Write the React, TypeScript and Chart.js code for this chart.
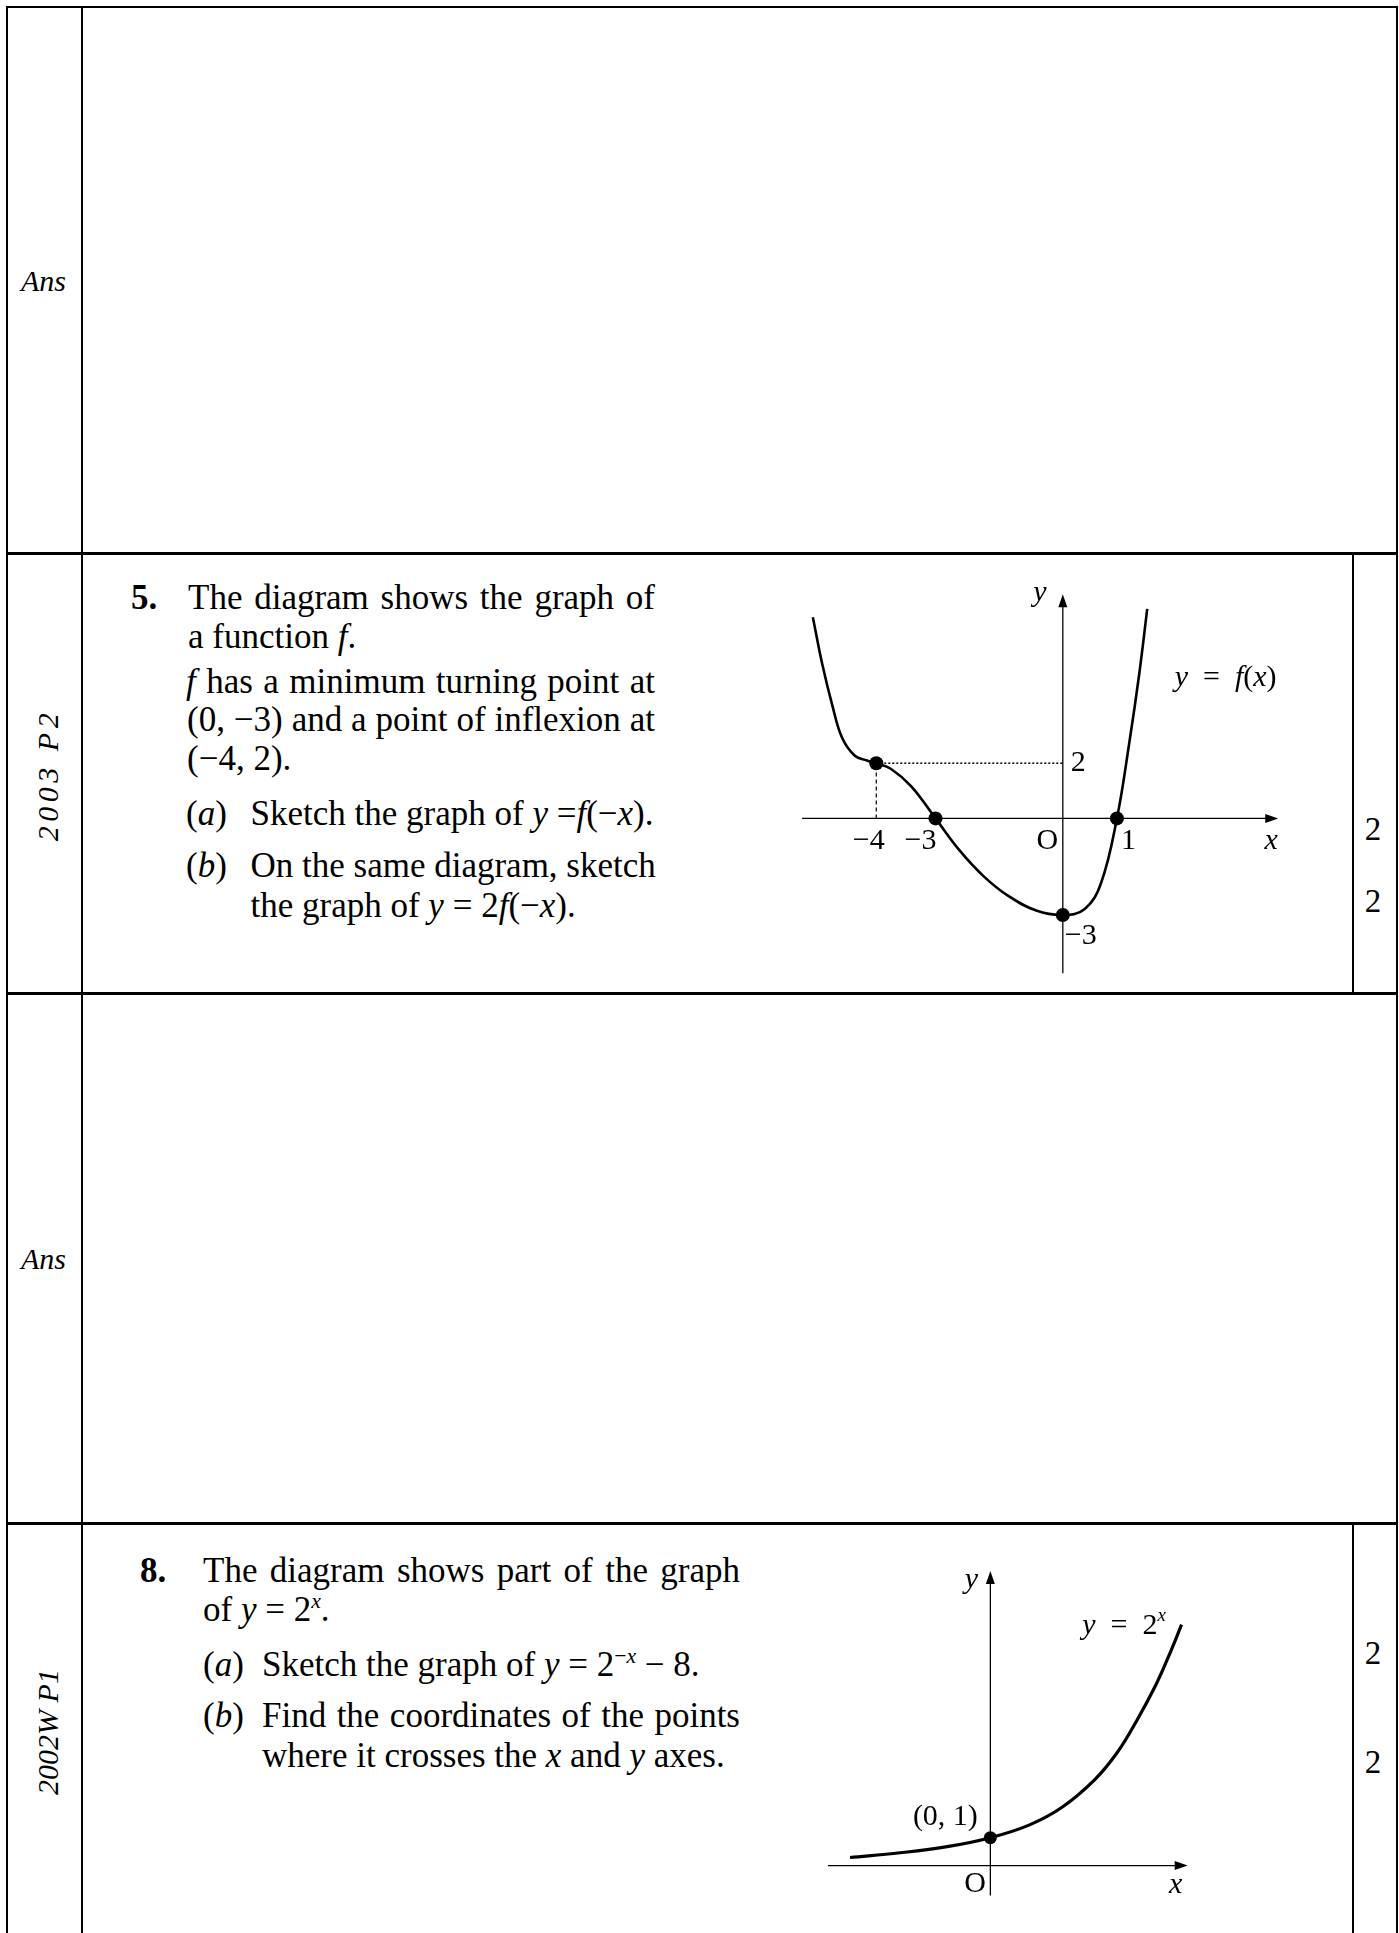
import React, { useEffect, useRef } from 'react';
import { Chart, registerables } from 'chart.js';

Chart.register(...registerables);

const SERIF = '"Liberation Serif", "Times New Roman", Times, serif';

// ===== Question 5 : y = f(x)  (values read in the sketch's own units)
const fCurveX = [-5.36, -5.16, -4.94, -4.73, -4.46, -4.2, -4, -3.69, -3.25, -2.73, -2.21, -1.69, -1.17, -0.57, 0, 0.47, 0.82, 1.16, 1.42, 1.64, 1.81];
const fCurveY = [7.29, 5.6, 4.08, 2.91, 2.27, 2.1, 2, 1.8, 1.16, 0, -1.17, -2.11, -2.81, -3.34, -3.5, -3.28, -2.34, 0, 2.68, 5.25, 7.59];
const fMarkX = [-4, -2.73, 0, 1.16];
const fMarkY = [2, 0, -3.5, 0];
const fAxisX = [-5.59, 4.62];
const fAxisY = [-5.61, 8.12];
const fXTickLabels = ['−4', '−3', 'O', '1'];
const fYTickLabels = ['2', '−3'];
const fCurveLabelPos = [2.4, 4.8];

// ===== Question 8 : y = 2^x
const expCurveX = [-2.29, -1.47, -0.68, 0, 0.64, 1.17, 1.7, 2.07, 2.39, 2.7, 2.91, 3.12];
const expCurveY = [0.29, 0.46, 0.69, 1, 1.46, 2.09, 3.07, 4.05, 5.2, 6.47, 7.5, 8.63];
const expMarkX = [0];
const expMarkY = [1];
const expAxisX = [-2.65, 3.22];
const expAxisY = [-1.07, 10.55];
const expLabelPos = [1.5, 8.3];

type Part = { t: string; i?: boolean; sup?: boolean };
type Label = { parts: Part[]; x: number; y: number; dx: number; dy: number; align: 'left' | 'center' | 'right' };

function drawRich(ctx: CanvasRenderingContext2D, parts: Part[], x: number, y: number, size: number, align: string) {
  const fontFor = (p: Part) => `${p.i ? 'italic ' : ''}${p.sup ? Math.round(size * 0.62) : size}px ${SERIF}`;
  let total = 0;
  const widths = parts.map((p) => {
    ctx.font = fontFor(p);
    const w = ctx.measureText(p.t).width;
    total += w;
    return w;
  });
  let cx = align === 'left' ? x : align === 'right' ? x - total : x - total / 2;
  ctx.textAlign = 'left';
  ctx.textBaseline = 'alphabetic';
  parts.forEach((p, k) => {
    ctx.font = fontFor(p);
    ctx.fillText(p.t, cx, p.sup ? y - size * 0.42 : y);
    cx += widths[k];
  });
}

function arrow(ctx: CanvasRenderingContext2D, x1: number, y1: number, x2: number, y2: number) {
  const ang = Math.atan2(y2 - y1, x2 - x1);
  const len = 13;
  const half = 4.5;
  const bx = x2 - len * Math.cos(ang);
  const by = y2 - len * Math.sin(ang);
  ctx.beginPath();
  ctx.moveTo(x1, y1);
  ctx.lineTo(bx + 2 * Math.cos(ang), by + 2 * Math.sin(ang));
  ctx.stroke();
  ctx.beginPath();
  ctx.moveTo(x2, y2);
  ctx.lineTo(bx + half * Math.sin(ang), by - half * Math.cos(ang));
  ctx.lineTo(bx - half * Math.sin(ang), by + half * Math.cos(ang));
  ctx.closePath();
  ctx.fill();
}

function makeOverlay(axisX: number[], axisY: number[], labels: Label[], fontSize: number) {
  return {
    id: 'sketchOverlay',
    beforeDatasetsDraw(chart: any) {
      const { ctx } = chart;
      const xs = chart.scales.x;
      const ys = chart.scales.y;
      const x0 = xs.getPixelForValue(0);
      const y0 = ys.getPixelForValue(0);
      ctx.save();
      ctx.strokeStyle = '#000';
      ctx.fillStyle = '#000';
      ctx.lineWidth = 1.3;
      arrow(ctx, xs.getPixelForValue(axisX[0]), y0, xs.getPixelForValue(axisX[1]), y0);
      arrow(ctx, x0, ys.getPixelForValue(axisY[0]), x0, ys.getPixelForValue(axisY[1]));
      ctx.restore();
    },
    afterDatasetsDraw(chart: any) {
      const { ctx } = chart;
      const xs = chart.scales.x;
      const ys = chart.scales.y;
      ctx.save();
      ctx.fillStyle = '#000';
      labels.forEach((l) => {
        drawRich(ctx, l.parts, xs.getPixelForValue(l.x) + l.dx, ys.getPixelForValue(l.y) + l.dy, fontSize, l.align);
      });
      ctx.restore();
    },
  };
}

const pts = (xs: number[], ys: number[]) => xs.map((x, i) => ({ x, y: ys[i] }));

function buildFChart() {
  const labels: Label[] = [
    { parts: [{ t: fXTickLabels[0] }], x: fMarkX[0], y: 0, dx: -7.5, dy: 31, align: 'center' },
    { parts: [{ t: fXTickLabels[1] }], x: fMarkX[1], y: 0, dx: -15, dy: 31, align: 'center' },
    { parts: [{ t: fXTickLabels[2] }], x: 0, y: 0, dx: -15.5, dy: 31, align: 'center' },
    { parts: [{ t: fXTickLabels[3] }], x: fMarkX[3], y: 0, dx: 11.5, dy: 31, align: 'center' },
    { parts: [{ t: 'x', i: true }], x: fAxisX[1], y: 0, dx: -7, dy: 31, align: 'center' },
    { parts: [{ t: 'y', i: true }], x: 0, y: fAxisY[1], dx: -23, dy: 7, align: 'center' },
    { parts: [{ t: fYTickLabels[0] }], x: 0, y: fMarkY[0], dx: 8, dy: 8, align: 'left' },
    { parts: [{ t: fYTickLabels[1] }], x: 0, y: fMarkY[2], dx: 2, dy: 28.5, align: 'left' },
    {
      parts: [{ t: 'y', i: true }, { t: '\u2002=\u2002' }, { t: 'f', i: true }, { t: '(' }, { t: 'x', i: true }, { t: ')' }],
      x: fCurveLabelPos[0], y: fCurveLabelPos[1], dx: 0, dy: 0, align: 'left',
    },
  ];
  return {
    type: 'scatter',
    data: {
      datasets: [
        { data: pts(fMarkX, fMarkY), pointRadius: 7, pointBackgroundColor: '#000', pointBorderColor: '#000', pointBorderWidth: 0, showLine: false },
        { data: pts(fCurveX, fCurveY), showLine: true, borderColor: '#000', borderWidth: 2.6, pointRadius: 0, tension: 0.4, fill: false },
        { data: [{ x: fMarkX[0], y: fMarkY[0] }, { x: 0, y: fMarkY[0] }], showLine: true, borderColor: '#000', borderWidth: 1.5, borderDash: [2, 2], pointRadius: 0 },
        { data: [{ x: fMarkX[0], y: 0 }, { x: fMarkX[0], y: fMarkY[0] }], showLine: true, borderColor: '#000', borderWidth: 1.2, borderDash: [4, 3], pointRadius: 0 },
      ],
    },
    options: {
      responsive: false,
      maintainAspectRatio: false,
      animation: false,
      events: [],
      layout: { padding: 0 },
      plugins: { legend: { display: false }, tooltip: { enabled: false } },
      scales: {
        x: { type: 'linear', min: -6, max: 5, display: false },
        y: { type: 'linear', min: -6, max: 9, display: false },
      },
    },
    plugins: [makeOverlay(fAxisX, fAxisY, labels, 30)],
  };
}

function buildExpChart() {
  const labels: Label[] = [
    { parts: [{ t: 'y', i: true }], x: 0, y: expAxisY[1], dx: -19, dy: 17, align: 'center' },
    {
      parts: [{ t: 'y', i: true }, { t: '\u2002=\u20022' }, { t: 'x', i: true, sup: true }],
      x: expLabelPos[0], y: expLabelPos[1], dx: 0, dy: 0, align: 'left',
    },
    { parts: [{ t: `(${expMarkX[0]}, ${expMarkY[0]})` }], x: expMarkX[0], y: expMarkY[0], dx: -12.5, dy: -13, align: 'right' },
    { parts: [{ t: 'O' }], x: 0, y: 0, dx: -4.5, dy: 26, align: 'right' },
    { parts: [{ t: 'x', i: true }], x: expAxisX[1], y: 0, dx: -12, dy: 27, align: 'center' },
  ];
  return {
    type: 'scatter',
    data: {
      datasets: [
        { data: pts(expMarkX, expMarkY), pointRadius: 6.5, pointBackgroundColor: '#000', pointBorderColor: '#000', pointBorderWidth: 0, showLine: false },
        { data: pts(expCurveX, expCurveY), showLine: true, borderColor: '#000', borderWidth: 3.2, pointRadius: 0, tension: 0.4, fill: false },
      ],
    },
    options: {
      responsive: false,
      maintainAspectRatio: false,
      animation: false,
      events: [],
      layout: { padding: 0 },
      plugins: { legend: { display: false }, tooltip: { enabled: false } },
      scales: {
        x: { type: 'linear', min: -3, max: 4, display: false },
        y: { type: 'linear', min: -1.5, max: 11, display: false },
      },
    },
    plugins: [makeOverlay(expAxisX, expAxisY, labels, 30)],
  };
}

function Graph({ left, top, width, height, build }: { left: number; top: number; width: number; height: number; build: () => any }) {
  const ref = useRef<HTMLCanvasElement>(null);
  useEffect(() => {
    const chart = new Chart(ref.current as HTMLCanvasElement, build());
    return () => chart.destroy();
  }, []);
  return (
    <div style={{ position: 'absolute', left, top, width, height }}>
      <canvas ref={ref} width={width} height={height} style={{ width, height, display: 'block' }} />
    </div>
  );
}

function HLine({ y, x1, x2, w }: { y: number; x1: number; x2: number; w: number }) {
  return <div style={{ position: 'absolute', left: x1, top: y - w / 2, width: x2 - x1, height: w, background: '#000' }} />;
}
function VLine({ x, y1, y2, w }: { x: number; y1: number; y2: number; w: number }) {
  return <div style={{ position: 'absolute', left: x - w / 2, top: y1, width: w, height: y2 - y1, background: '#000' }} />;
}

function TextLine({ left, baseline, width, justify, size = 35, children, bold }: any) {
  return (
    <div
      style={{
        position: 'absolute',
        left,
        top: baseline - size * 0.8375,
        width: width ?? undefined,
        fontSize: size,
        lineHeight: `${size}px`,
        fontWeight: bold ? 'bold' : 'normal',
        whiteSpace: justify ? 'normal' : 'nowrap',
        textAlign: justify ? 'justify' : 'left',
        textAlignLast: justify ? 'justify' : 'auto',
      } as any}
    >
      {children}
    </div>
  );
}

const Sup = ({ children }: any) => (
  <sup style={{ fontSize: '0.62em', verticalAlign: '0.62em', lineHeight: 0 }}>{children}</sup>
);

function Rotated({ cx, cy, text, size, spacing }: any) {
  const W = 240;
  return (
    <div
      style={{
        position: 'absolute',
        left: cx - W / 2,
        top: cy - size / 2,
        width: W,
        height: size,
        lineHeight: `${size}px`,
        fontSize: size,
        fontStyle: 'italic',
        letterSpacing: spacing,
        textAlign: 'center',
        whiteSpace: 'nowrap',
        transform: 'rotate(-90deg)',
        transformOrigin: 'center center',
      }}
    >
      {text}
    </div>
  );
}

function Mark({ baseline }: { baseline: number }) {
  return (
    <div style={{ position: 'absolute', left: 1353, width: 40, top: baseline - 33 * 0.8375, fontSize: 33, lineHeight: '33px', textAlign: 'center' }}>2</div>
  );
}

export default function App() {
  return (
    <div
      style={{
        position: 'absolute',
        left: 0,
        top: 0,
        width: 1399,
        height: 1933,
        overflow: 'hidden',
        background: '#fff',
        color: '#000',
        fontFamily: SERIF,
      }}
    >
      {/* table grid */}
      <HLine y={7} x1={6} x2={1398} w={2.5} />
      <HLine y={553.5} x1={6} x2={1398} w={3} />
      <HLine y={993.8} x1={6} x2={1398} w={3} />
      <HLine y={1523.5} x1={6} x2={1398} w={3} />
      <VLine x={7} y1={6} y2={1933} w={2} />
      <VLine x={82} y1={6} y2={1933} w={2} />
      <VLine x={1396.5} y1={6} y2={1933} w={2} />
      <VLine x={1352.7} y1={553.5} y2={993.8} w={2} />
      <VLine x={1352.7} y1={1523.5} y2={1933} w={2} />

      {/* left column */}
      <TextLine left={21} baseline={291} size={30}><i>Ans</i></TextLine>
      <TextLine left={21} baseline={1269.5} size={30}><i>Ans</i></TextLine>
      <Rotated cx={48} cy={775} text="2003 P2" size={30} spacing={4.5} />
      <Rotated cx={48} cy={1732} text="2002W P1" size={30} spacing={0} />

      {/* Question 5 */}
      <TextLine left={131} baseline={609} bold>5.</TextLine>
      <TextLine left={188} baseline={609} width={467} justify>The diagram shows the graph of</TextLine>
      <TextLine left={188} baseline={648}>a function <i>f</i>.</TextLine>
      <TextLine left={186} baseline={693} width={469} justify><i>f</i> has a minimum turning point at</TextLine>
      <TextLine left={187} baseline={731.5} width={468} justify>(0, −3) and a point of inflexion at</TextLine>
      <TextLine left={187} baseline={770}>(−4, 2).</TextLine>
      <TextLine left={186} baseline={825}>(<i>a</i>)</TextLine>
      <TextLine left={250.5} baseline={825}>Sketch the graph of <i>y</i> =<i>f</i>(−<i>x</i>).</TextLine>
      <TextLine left={186} baseline={877.5}>(<i>b</i>)</TextLine>
      <TextLine left={250.5} baseline={877.5}>On the same diagram, sketch</TextLine>
      <TextLine left={250.5} baseline={917.5}>the graph of <i>y</i> = 2<i>f</i>(−<i>x</i>).</TextLine>
      <Mark baseline={840.5} />
      <Mark baseline={913} />
      <Graph left={776} top={563} width={527} height={428} build={buildFChart} />

      {/* Question 8 */}
      <TextLine left={140} baseline={1582} bold>8.</TextLine>
      <TextLine left={203} baseline={1582} width={537} justify>The diagram shows part of the graph</TextLine>
      <TextLine left={203} baseline={1621}>of <i>y</i> = 2<Sup><i>x</i></Sup>.</TextLine>
      <TextLine left={203} baseline={1676}>(<i>a</i>)</TextLine>
      <TextLine left={262} baseline={1676}>Sketch the graph of <i>y</i> = 2<Sup>−<i>x</i></Sup> − 8.</TextLine>
      <TextLine left={203} baseline={1727.5}>(<i>b</i>)</TextLine>
      <TextLine left={262} baseline={1727.5} width={478} justify>Find the coordinates of the points</TextLine>
      <TextLine left={262} baseline={1767}>where it crosses the <i>x</i> and <i>y</i> axes.</TextLine>
      <Mark baseline={1664.5} />
      <Mark baseline={1774} />
      <Graph left={800} top={1552} width={442} height={362} build={buildExpChart} />
    </div>
  );
}
